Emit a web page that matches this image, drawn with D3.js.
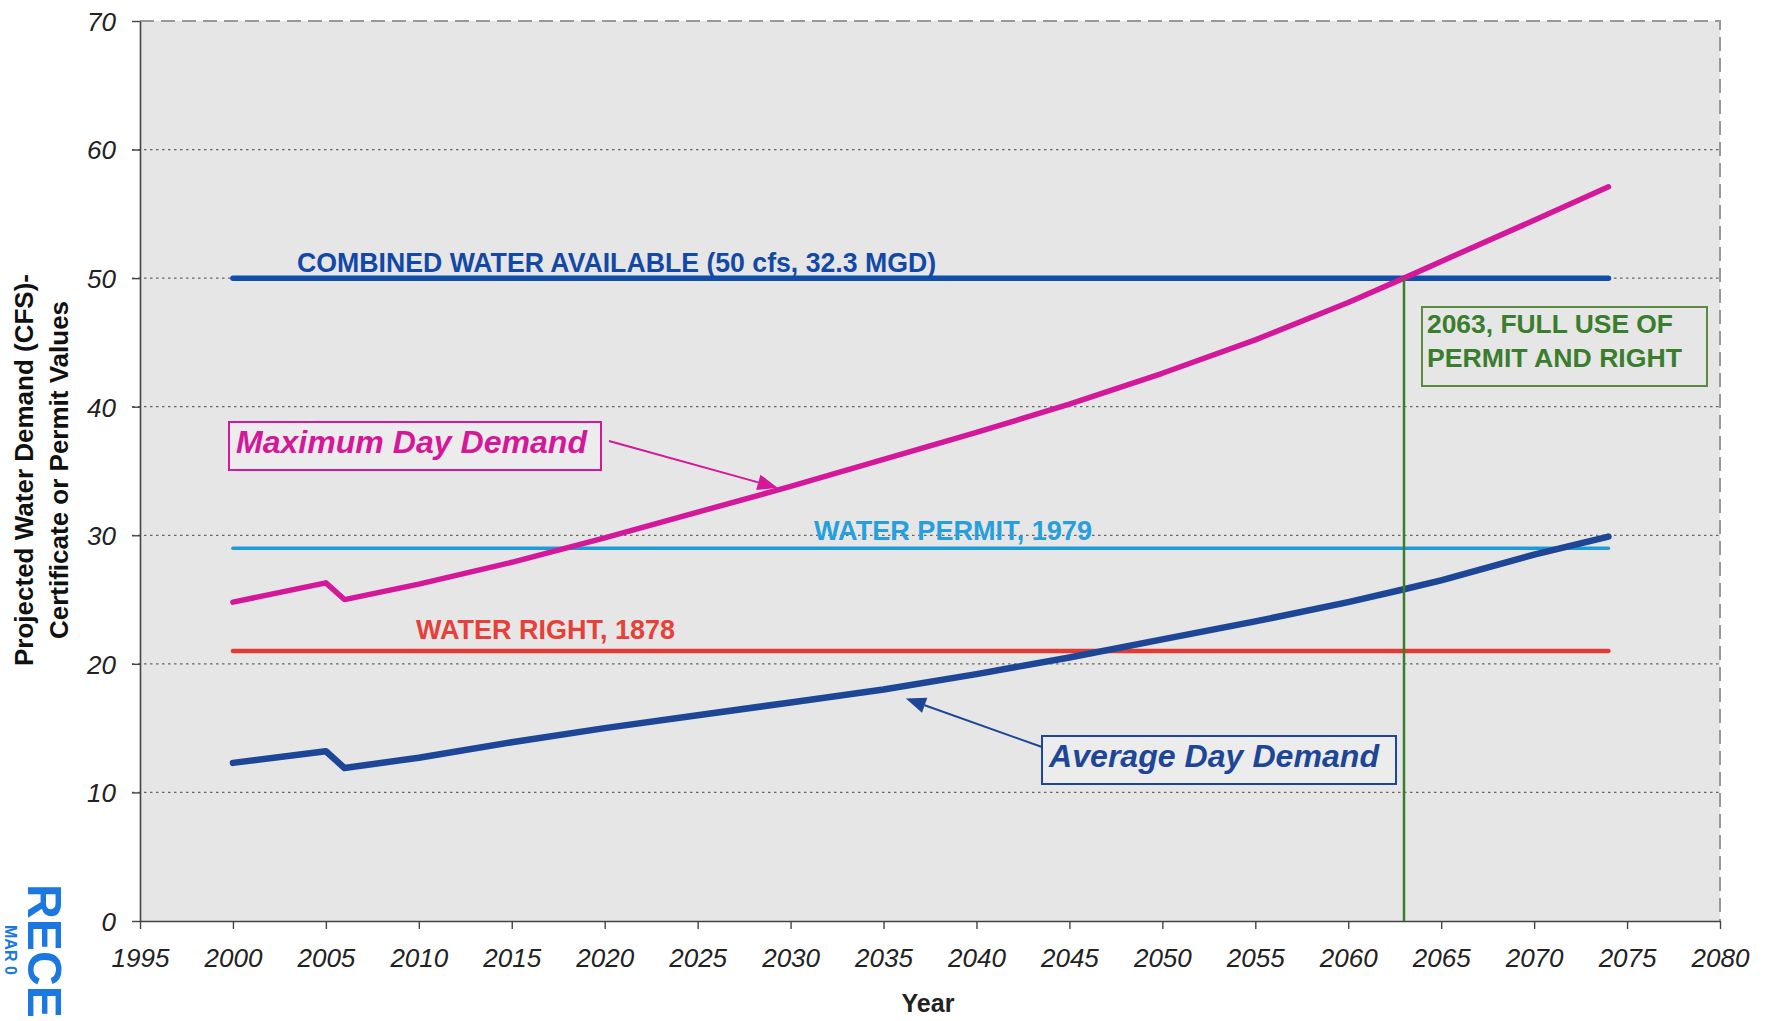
<!DOCTYPE html>
<html>
<head>
<meta charset="utf-8">
<script src="https://cdn.jsdelivr.net/npm/d3@7"></script>
<style>
  html, body { margin: 0; padding: 0; background: #fff; }
  svg { display: block; font-family: "Liberation Sans", Arial, sans-serif; }
</style>
</head>
<body>
<svg id="chart" width="1769" height="1021"></svg>
<script>
// values
const years   = [2000, 2005, 2006, 2010, 2015, 2020, 2025, 2030, 2035, 2040, 2045, 2050, 2055, 2060, 2063, 2065, 2070, 2074];
const maxDay  = [24.8, 26.3, 25.0, 26.2, 27.9, 29.8, 31.8, 33.8, 35.9, 38.0, 40.2, 42.6, 45.2, 48.1, 50.0, 51.3, 54.5, 57.1];
const avgDay  = [12.3, 13.2, 11.9, 12.7, 13.9, 15.0, 16.0, 17.0, 18.0, 19.2, 20.5, 21.9, 23.3, 24.8, 25.8, 26.5, 28.5, 29.9];

const limitNames  = ['COMBINED WATER AVAILABLE (50 cfs, 32.3 MGD)', 'WATER PERMIT, 1979', 'WATER RIGHT, 1878'];
const limitValues = [50, 29, 21];
const limitSpan   = [2000, 2074];
const fullUseYear = 2063;

const xTicks = d3.range(1995, 2081, 5);
const yTicks = d3.range(0, 71, 10);

const svg = d3.select('#chart');

const x = d3.scaleLinear().domain([1995, 2080]).range([140, 1720]);
const y = d3.scaleLinear().domain([0, 70]).range([921, 21]);

// plot background
svg.append('rect')
  .attr('x', x(1995)).attr('y', y(70))
  .attr('width', x(2080) - x(1995)).attr('height', y(0) - y(70))
  .attr('fill', '#e6e6e6');

// dotted gridlines
svg.append('g').selectAll('line').data(yTicks.filter(d => d > 0 && d < 70))
  .enter().append('line')
  .attr('x1', x(1995) - 8).attr('x2', x(2080))
  .attr('y1', d => y(d)).attr('y2', d => y(d))
  .style('stroke', '#666').style('stroke-width', 1.3)
  .style('stroke-dasharray', '2.5,3.5');

// top + right frame, dashed
svg.append('path')
  .attr('d', `M${x(1995)},${y(70)}H${x(2080)}V${y(0)}`)
  .attr('fill', 'none')
  .style('stroke', '#999').style('stroke-width', 2)
  .style('stroke-dasharray', '14,7');

// axes
const xAxis = svg.append('g')
  .attr('transform', `translate(0,${y(0)})`)
  .call(d3.axisBottom(x).tickValues(xTicks).tickFormat(d3.format('d'))
    .tickSize(8).tickSizeOuter(0).tickPadding(20));
const yAxis = svg.append('g')
  .attr('transform', `translate(${x(1995)},0)`)
  .call(d3.axisLeft(y).tickValues(yTicks).tickSize(8).tickSizeOuter(0).tickPadding(16));

[xAxis, yAxis].forEach(a => {
  a.select('.domain').style('stroke', '#444').style('stroke-width', 1.6);
  a.selectAll('.tick line').style('stroke', '#444').style('stroke-width', 1.4);
  a.selectAll('.tick text')
    .style('font-family', '"Liberation Sans", Arial, sans-serif')
    .style('font-size', '26px').style('font-style', 'italic')
    .attr('fill', '#222');
});
yAxis.selectAll('.tick text').attr('dy', '0.36em');

// axis titles
svg.append('text')
  .attr('x', 928).attr('y', 1012)
  .attr('text-anchor', 'middle')
  .style('font-size', '25px').style('font-weight', 'bold')
  .attr('fill', '#222')
  .text('Year');

const yTitle = svg.append('text')
  .attr('transform', 'translate(0,470) rotate(-90)')
  .attr('text-anchor', 'middle')
  .style('font-size', '26px').style('font-weight', 'bold')
  .attr('fill', '#111');
yTitle.append('tspan').attr('x', 0).attr('y', 33).text('Projected Water Demand (CFS)-');
yTitle.append('tspan').attr('x', 0).attr('y', 68).text('Certificate or Permit Values');

// horizontal limit lines
const limitColors = ['#0f4fa8', '#1e9bd7', '#e23b35'];
const limitWidths = [5.5, 3.5, 4.5];
svg.append('g').selectAll('line').data(limitValues)
  .enter().append('line')
  .attr('x1', x(limitSpan[0])).attr('x2', x(limitSpan[1]))
  .attr('y1', d => y(d)).attr('y2', d => y(d))
  .style('stroke', (d, i) => limitColors[i])
  .style('stroke-width', (d, i) => limitWidths[i])
  .style('stroke-linecap', 'round');

// limit labels: [left year, offset above line, width of text]
const limitLabelPos = [[2003.45, 6, 639], [2031.26, 8, 278], [2009.85, 12, 259]];
const limitTextColors = ['#1248a6', '#26a0dc', '#e5403a'];
svg.append('g').selectAll('text').data(limitNames)
  .enter().append('text')
  .attr('x', (d, i) => x(limitLabelPos[i][0]))
  .attr('y', (d, i) => y(limitValues[i]) - limitLabelPos[i][1])
  .attr('textLength', (d, i) => limitLabelPos[i][2])
  .attr('lengthAdjust', 'spacingAndGlyphs')
  .style('font-size', '28px').style('font-weight', 'bold')
  .attr('fill', (d, i) => limitTextColors[i])
  .text(d => d);

// demand curves
const line = d3.line().x(d => x(d[0])).y(d => y(d[1]));
svg.append('path')
  .datum(years.map((yr, i) => [yr, maxDay[i]]))
  .attr('d', line)
  .attr('fill', 'none')
  .style('stroke', '#d4189a').style('stroke-width', 5.5)
  .style('stroke-linecap', 'round').style('stroke-linejoin', 'round');
svg.append('path')
  .datum(years.map((yr, i) => [yr, avgDay[i]]))
  .attr('d', line)
  .attr('fill', 'none')
  .style('stroke', '#1e4696').style('stroke-width', 6.5)
  .style('stroke-linecap', 'round').style('stroke-linejoin', 'round');

// 2063 marker
svg.append('line')
  .attr('x1', x(fullUseYear)).attr('x2', x(fullUseYear))
  .attr('y1', y(0)).attr('y2', y(limitValues[0]))
  .style('stroke', '#3a7d2c').style('stroke-width', 2.5);

const green = svg.append('g');
green.append('rect')
  .attr('x', 1422).attr('y', 307).attr('width', 285).attr('height', 79)
  .attr('fill', 'none').style('stroke', '#5a8a40').style('stroke-width', 2);
green.append('text').attr('x', 1427).attr('y', 333)
  .attr('textLength', 246).attr('lengthAdjust', 'spacingAndGlyphs')
  .style('font-size', '26px').style('font-weight', 'bold').attr('fill', '#3a7d2c')
  .text(fullUseYear + ', FULL USE OF');
green.append('text').attr('x', 1427).attr('y', 367)
  .attr('textLength', 255).attr('lengthAdjust', 'spacingAndGlyphs')
  .style('font-size', '26px').style('font-weight', 'bold').attr('fill', '#3a7d2c')
  .text('PERMIT AND RIGHT');

// callout boxes with arrows
function arrowHead(g, x1, y1, x2, y2, color) {
  const a = Math.atan2(y2 - y1, x2 - x1), L = 20, w = 8;
  const bx = x2 - L * Math.cos(a), by = y2 - L * Math.sin(a);
  g.append('line').attr('x1', x1).attr('y1', y1).attr('x2', bx).attr('y2', by)
    .style('stroke', color).style('stroke-width', 2);
  g.append('path')
    .attr('d', `M${x2},${y2}L${bx - w * Math.sin(a)},${by + w * Math.cos(a)}L${bx + w * Math.sin(a)},${by - w * Math.cos(a)}Z`)
    .attr('fill', color);
}

function callout(box, label, width, color, from, to) {
  const g = svg.append('g');
  g.append('rect')
    .attr('x', box[0]).attr('y', box[1]).attr('width', box[2]).attr('height', box[3])
    .attr('fill', '#ececec').style('stroke', color).style('stroke-width', 2);
  g.append('text')
    .attr('x', box[0] + 7).attr('y', box[1] + 31)
    .attr('textLength', width).attr('lengthAdjust', 'spacingAndGlyphs')
    .style('font-size', '32px').style('font-weight', 'bold').style('font-style', 'italic')
    .attr('fill', color)
    .text(label);
  arrowHead(g, from[0], from[1], to[0], to[1], color);
}

callout([229, 422, 372, 48], 'Maximum Day Demand', 351, '#d4189a',
  [609, 441], [x(2029.3), y(33.7)]);
callout([1042, 736, 354, 48], 'Average Day Demand', 330, '#1e4696',
  [1042, 747], [x(2036.2), y(17.3)]);

// received stamp on the scan (only the visible part of it)
svg.append('text')
  .attr('transform', 'translate(28,884) rotate(90)')
  .attr('textLength', 134).attr('lengthAdjust', 'spacingAndGlyphs')
  .style('font-size', '48px').style('font-weight', 'bold')
  .attr('fill', '#1a78e0')
  .text('RECE');
svg.append('text')
  .attr('transform', 'translate(5,925) rotate(90)')
  .style('font-size', '16px').style('font-weight', 'bold')
  .attr('fill', '#1a78e0')
  .text('MAR 0');
</script>
</body>
</html>
